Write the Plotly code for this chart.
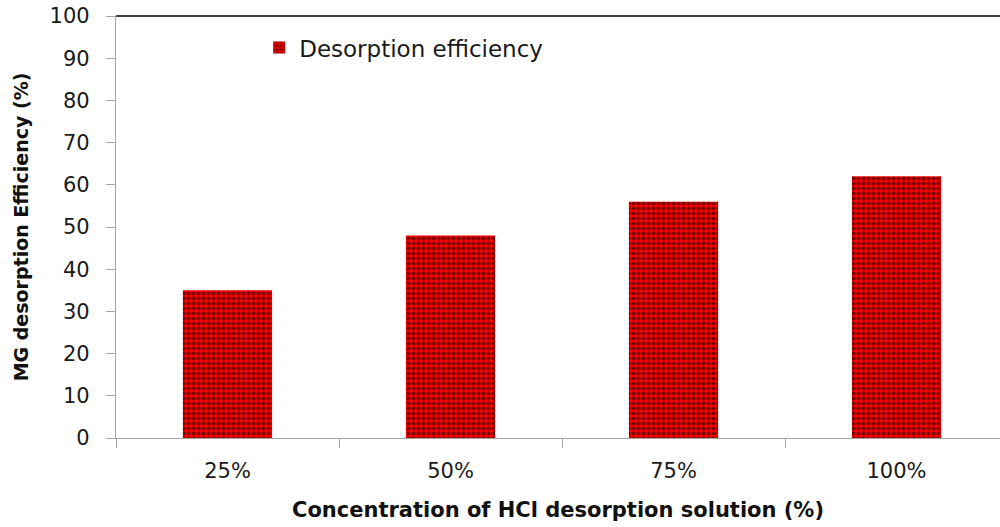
import plotly.graph_objects as go

categories = ["25%", "50%", "75%", "100%"]
efficiency = [35, 48, 56, 62]
y_ticks = [0, 10, 20, 30, 40, 50, 60, 70, 80, 90, 100]

fig = go.Figure()
fig.add_trace(go.Bar(
    x=categories, y=efficiency, name="Desorption efficiency",
    width=0.4,
    marker=dict(color="#ff0000", line=dict(width=0),
                pattern=dict(shape=".", fgcolor="#000000", bgcolor="#ff0000",
                             size=5, solidity=0.55, fillmode="overlay")),
    showlegend=True,
))

FONT = "DejaVu Sans"
fig.update_layout(
    width=1000, height=527,
    margin=dict(l=116, r=0, t=16, b=89, autoexpand=False),
    paper_bgcolor="white", plot_bgcolor="white",
    font=dict(family=FONT, color="#1a1a1a"),
    showlegend=True,
    legend=dict(x=0.162, y=0.925, xanchor="left", yanchor="middle",
                font=dict(family=FONT, size=23, color="#1a1a1a"),
                bgcolor="rgba(0,0,0,0)", itemwidth=30),
    xaxis=dict(range=[-0.5, 3.464], showline=True, linecolor="#a6a6a6", linewidth=1.2,
               ticks="outside", tickson="boundaries", ticklen=9, tickcolor="#a6a6a6",
               ticklabelstandoff=14, automargin=False,
               tickfont=dict(size=21, family=FONT, color="#1a1a1a"),
               showgrid=False, zeroline=False,
               title=dict(text="<b>Concentration of HCl desorption solution (%)</b>",
                          font=dict(size=21, family=FONT, color="#111111"), standoff=20)),
    yaxis=dict(range=[0, 100], tickvals=y_ticks, showline=True, linecolor="#a6a6a6", linewidth=1.2,
               ticks="outside", ticklen=9, tickcolor="#a6a6a6",
               ticklabelstandoff=12, ticklabeloverflow="allow", automargin=False,
               tickfont=dict(size=21, family=FONT, color="#1a1a1a"),
               showgrid=False, zeroline=False,
               title=dict(text="<b>MG desorption Efficiency (%)</b>",
                          font=dict(size=19, family=FONT, color="#111111"), standoff=15)),
    shapes=[dict(type="line", xref="paper", yref="paper", x0=0, x1=1, y0=1, y1=1,
                 line=dict(color="#404040", width=2))],
)

fig.write_html("out.html", config={"displayModeBar": False},
               post_script="document.body.style.margin='0';document.body.style.overflow='hidden';")
